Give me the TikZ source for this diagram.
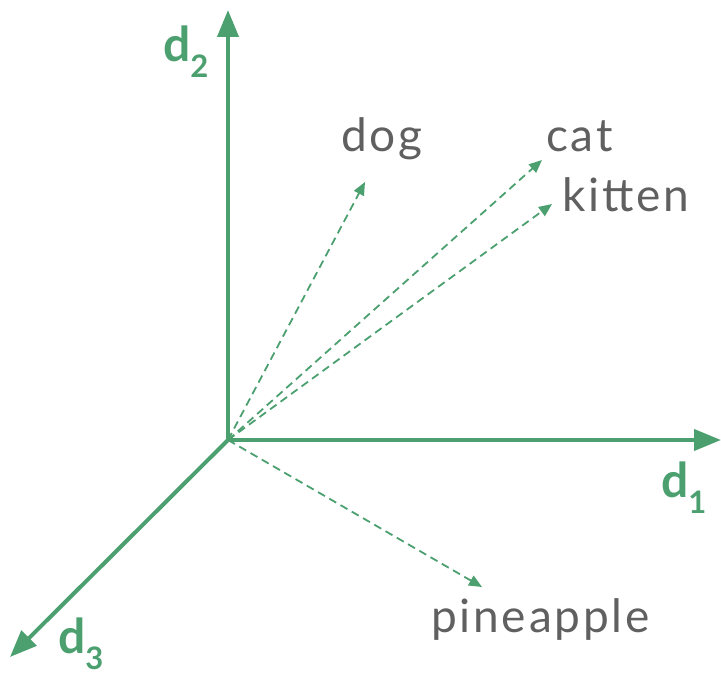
\documentclass[tikz,border=0pt]{standalone}
\usepackage{fontspec}
\setmainfont{Lato}
\newfontfamily\wordfont[LetterSpace=6]{Lato}
\usetikzlibrary{arrows.meta}
\definecolor{axgreen}{RGB}{76,160,112}
\definecolor{txtgray}{RGB}{96,96,96}
\tikzset{
  axis/.style={draw=axgreen, line width=4pt, -{Triangle[length=27pt,width=21pt]}},
  vec/.style={draw=axgreen, line width=1.8pt, dash pattern=on 8pt off 5pt, -{Triangle[length=13pt,width=11pt]}},
  word/.style={text=txtgray, font=\wordfont\fontsize{46}{50}\selectfont, anchor=base west, inner sep=0pt},
  axlabel/.style={text=axgreen, font=\bfseries\fontsize{48}{50}\selectfont, anchor=base west, inner sep=0pt}
}
\newcommand{\axsub}[1]{\raisebox{-16pt}[0pt][0pt]{\fontsize{31}{31}\selectfont #1}}
\begin{document}
\begin{tikzpicture}[x=1pt,y=-1pt]
\useasboundingbox (0,0) rectangle (721,674);
\coordinate (O) at (228,440);
\coordinate (e1) at (721,440);
\coordinate (e2) at (228,10);
\coordinate (e3) at (10,657);
\coordinate (tdog) at (365,182);
\coordinate (tcat) at (542,160);
\coordinate (tkit) at (552,204);
\coordinate (tpin) at (482,587);
\draw[axis] (O) -- (e1);
\draw[axis] (O) -- (e2);
\draw[axis] (O) -- (e3);
\draw[vec] (O) -- (tdog);
\draw[vec] (O) -- (tcat);
\draw[vec] (O) -- (tkit);
\draw[vec] (O) -- (tpin);
\node[word] (dog) at (341,152) {dog};
\node[word] (cat) at (546,152) {cat};
\node[word] (kitten) at (562,212) {kitten};
\node[word] (pineapple) at (431,632) {pineapple};
\node[axlabel] (d1) at (661,497) {d\axsub{1}};
\node[axlabel] (d2) at (163,62) {d\axsub{2}};
\node[axlabel] (d3) at (58,653) {d\axsub{3}};
\end{tikzpicture}
\end{document}
